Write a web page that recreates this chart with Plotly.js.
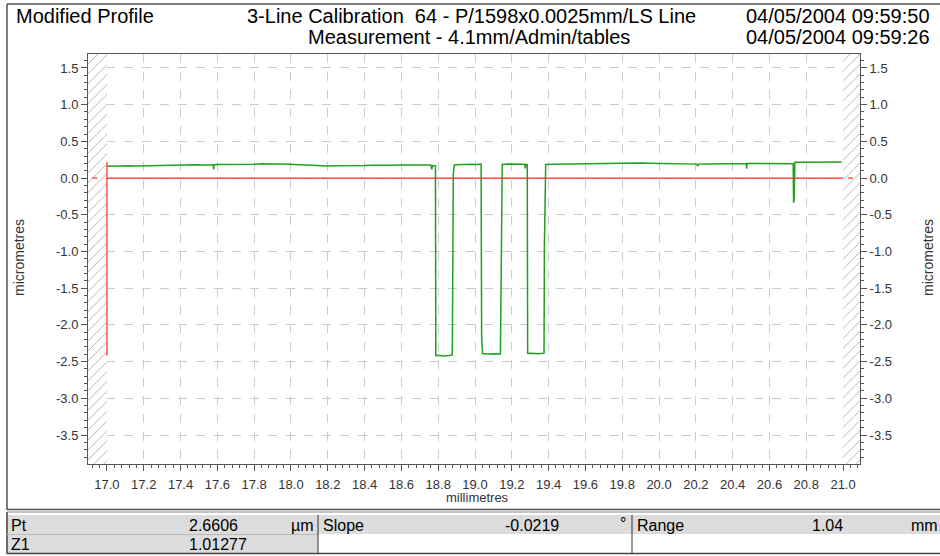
<!DOCTYPE html>
<html>
<head>
<meta charset="utf-8">
<script src="https://cdn.plot.ly/plotly-3.0.1.min.js"></script>
<style>
html,body{margin:0;padding:0;background:#fff;}
#chart{width:940px;height:556px;}
</style>
</head>
<body>
<div id="chart"></div>
<script>
// ---------- data ----------
const profileX = [
17.000,17.040,17.080,17.120,17.160,17.200,17.240,17.280,17.320,17.360,
17.400,17.440,17.480,17.520,17.560,17.578,17.580,17.582,17.600,17.640,
17.680,17.720,17.760,17.800,17.840,17.880,17.920,17.960,18.000,18.040,
18.080,18.120,18.160,18.200,18.240,18.280,18.320,18.360,18.400,18.440,
18.480,18.520,18.560,18.600,18.640,18.680,18.720,18.760,18.765,18.770,
18.785,18.787,18.800,18.830,18.860,18.876,18.877,18.882,18.888,18.920,
18.950,18.980,19.010,19.033,19.036,19.041,19.070,19.100,19.138,19.142,
19.148,19.180,19.210,19.240,19.270,19.273,19.276,19.284,19.286,19.310,
19.340,19.372,19.375,19.377,19.384,19.420,19.460,19.500,19.540,19.580,
19.620,19.660,19.700,19.740,19.780,19.820,19.860,19.900,19.940,19.980,
20.020,20.060,20.100,20.140,20.180,20.205,20.210,20.215,20.260,20.300,
20.340,20.380,20.420,20.460,20.474,20.476,20.478,20.520,20.560,20.600,
20.640,20.680,20.720,20.729,20.731,20.734,20.738,20.780,20.820,20.860,
20.900,20.940,20.993
];
const profileY = [
0.160,0.165,0.160,0.168,0.163,0.166,0.170,0.166,0.172,0.170,
0.176,0.175,0.180,0.178,0.182,0.182,0.118,0.182,0.184,0.183,
0.188,0.186,0.190,0.189,0.194,0.198,0.192,0.190,0.186,0.180,
0.170,0.168,0.166,0.165,0.168,0.166,0.170,0.172,0.170,0.174,
0.172,0.176,0.174,0.177,0.175,0.178,0.176,0.178,0.120,0.170,
0.165,-2.420,-2.415,-2.425,-2.418,-2.410,-2.230,0.060,0.180,0.186,
0.183,0.188,0.185,0.190,-2.160,-2.390,-2.398,-2.392,-2.395,-1.580,
0.185,0.190,0.187,0.192,0.188,0.130,0.186,0.182,-2.390,-2.385,
-2.392,-2.388,-2.385,-0.940,0.186,0.188,0.190,0.189,0.192,0.190,
0.193,0.195,0.194,0.197,0.199,0.200,0.202,0.204,0.201,0.200,
0.199,0.197,0.196,0.194,0.192,0.190,0.160,0.190,0.193,0.195,
0.197,0.198,0.199,0.200,0.199,0.128,0.199,0.200,0.198,0.199,
0.197,0.198,0.196,0.196,-0.335,-0.300,0.216,0.217,0.216,0.217,
0.218,0.217,0.218
];
// reference (least squares) line and range marker
const refLineX = [16.920,16.948,null,17.000,21.000,null,21.027,21.054,null,17.000,17.000];
const refLineY = [0,0,null,0,0,null,0,0,null,0.22,-2.42];
// excluded (hatched) zones
const hatchLeftX  = [16.897,17.000,17.000,16.897,16.897];
const hatchLeftY  = [1.69,1.69,-3.895,-3.895,1.69];
const hatchRightX = [21.000,21.092,21.092,21.000,21.000];
const hatchRightY = [1.69,1.69,-3.895,-3.895,1.69];

const xTickVals = [17.0,17.2,17.4,17.6,17.8,18.0,18.2,18.4,18.6,18.8,19.0,19.2,19.4,19.6,19.8,20.0,20.2,20.4,20.6,20.8,21.0];
const xTickText = ['17.0','17.2','17.4','17.6','17.8','18.0','18.2','18.4','18.6','18.8','19.0','19.2','19.4','19.6','19.8','20.0','20.2','20.4','20.6','20.8','21.0'];
const yTickVals = [1.5,1.0,0.5,0.0,-0.5,-1.0,-1.5,-2.0,-2.5,-3.0,-3.5];
const yTickText = ['1.5','1.0','0.5','0.0','-0.5','-1.0','-1.5','-2.0','-2.5','-3.0','-3.5'];

const headerLeft = 'Modified Profile';
const headerLine1 = '3-Line Calibration  64 - P/1598x0.0025mm/LS Line';
const headerLine2 = 'Measurement - 4.1mm/Admin/tables';
const headerDate1 = '04/05/2004 09:59:50';
const headerDate2 = '04/05/2004 09:59:26';
const xTitle = 'millimetres';
const yTitle = 'micrometres';

const tableLabels = ['Pt','Slope','Range','Z1'];
const tableValues = ['2.6606','-0.0219','1.04','1.01277'];
const tableUnits  = ['µm','°','mm'];

// ---------- layout helpers (pixel -> paper) ----------
const L = 88, R = 860, T = 54, B = 464;
const fx = p => (p - L) / (R - L);
const fy = p => (B - p) / (B - T);
const FONT = 'Liberation Sans, Arial, sans-serif';

function ann(text, x, y, xanchor, size, extra) {
  return Object.assign({
    text: text, xref: 'paper', yref: 'paper', x: fx(x), y: fy(y),
    xanchor: xanchor, yanchor: 'middle', showarrow: false,
    font: {family: FONT, size: size, color: '#000'}
  }, extra || {});
}
function line(x0, y0, x1, y1, color, width) {
  return {type: 'line', xref: 'paper', yref: 'paper',
    x0: fx(x0), y0: fy(y0), x1: fx(x1), y1: fy(y1),
    line: {color: color, width: width}, layer: 'above'};
}
function rect(x0, y0, x1, y1, fill) {
  return {type: 'rect', xref: 'paper', yref: 'paper',
    x0: fx(x0), y0: fy(y0), x1: fx(x1), y1: fy(y1),
    fillcolor: fill, line: {width: 0}, layer: 'below'};
}

const traces = [
  {x: hatchLeftX, y: hatchLeftY, type: 'scatter', mode: 'lines', fill: 'toself',
   fillcolor: '#ffffff', line: {width: 0}, hoverinfo: 'skip',
   fillpattern: {shape: '/', fgcolor: '#a8a8a8', bgcolor: '#ffffff', size: 7, solidity: 0.12}},
  {x: hatchRightX, y: hatchRightY, type: 'scatter', mode: 'lines', fill: 'toself',
   fillcolor: '#ffffff', line: {width: 0}, hoverinfo: 'skip',
   fillpattern: {shape: '/', fgcolor: '#a8a8a8', bgcolor: '#ffffff', size: 7, solidity: 0.12}},
  {x: profileX, y: profileY, type: 'scatter', mode: 'lines',
   line: {color: '#1fa01f', width: 1.5}},
  {x: refLineX, y: refLineY, type: 'scatter', mode: 'lines',
   line: {color: '#ff2a2a', width: 1.2}},
  {x: [17.0], y: [0], type: 'scatter', mode: 'markers', yaxis: 'y2',
   marker: {opacity: 0}, hoverinfo: 'skip'}
];

const axisCommon = {
  tickfont: {family: FONT, size: 13, color: '#333'},
  ticks: 'outside', ticklen: 6, tickcolor: '#555', tickwidth: 1,
  zeroline: false
};

const layout = {
  width: 940, height: 556,
  margin: {l: L, r: 940 - R, t: T, b: 556 - B, pad: 0},
  paper_bgcolor: '#ffffff', plot_bgcolor: '#ffffff',
  showlegend: false,
  font: {family: FONT},
  xaxis: Object.assign({}, axisCommon, {
    range: [16.897, 21.092], tickmode: 'array', tickvals: xTickVals, ticktext: xTickText,
    showgrid: true, gridcolor: '#cccccc', griddash: 'dash', gridwidth: 1,
    showline: true, mirror: true, linecolor: '#555', linewidth: 1,
    ticklabelstandoff: 2,
    minor: {dtick: 0.04, tick0: 17.0, ticks: 'outside', ticklen: 3, tickcolor: '#555', showgrid: false}
  }),
  yaxis: Object.assign({}, axisCommon, {
    range: [-3.895, 1.69], tickmode: 'array', tickvals: yTickVals, ticktext: yTickText,
    showgrid: true, gridcolor: '#cccccc', griddash: 'dash', gridwidth: 1,
    showline: true, mirror: true, linecolor: '#555', linewidth: 1,
    minor: {dtick: 0.1, tick0: 0, ticks: 'outside', ticklen: 3, tickcolor: '#555', showgrid: false}
  }),
  yaxis2: Object.assign({}, axisCommon, {
    range: [-3.895, 1.69], tickmode: 'array', tickvals: yTickVals, ticktext: yTickText,
    overlaying: 'y', side: 'right', anchor: 'x', showgrid: false, showline: false,
    minor: {dtick: 0.1, tick0: 0, ticks: 'outside', ticklen: 3, tickcolor: '#555', showgrid: false}
  }),
  annotations: [
    ann(headerLeft, 14, 16, 'left', 20),
    ann(headerLine1, 471, 16, 'center', 20),
    ann(headerLine2, 469, 37, 'center', 20),
    ann(headerDate1, 744, 16, 'left', 20),
    ann(headerDate2, 744, 37, 'left', 20),
    ann(xTitle, 477, 497, 'center', 13, {font: {family: FONT, size: 13, color: '#333'}}),
    ann(yTitle, 19, 258, 'center', 14, {textangle: -90, font: {family: FONT, size: 14, color: '#333'}}),
    ann(yTitle, 928, 258, 'center', 14, {textangle: -90, font: {family: FONT, size: 14, color: '#333'}}),
    ann(tableLabels[0], 9, 525, 'left', 16),
    ann(tableValues[0], 187, 525, 'left', 16),
    ann(tableUnits[0], 316, 525, 'right', 16),
    ann(tableLabels[1], 321, 525, 'left', 16),
    ann(tableValues[1], 503, 525, 'left', 16),
    ann(tableUnits[1], 623, 523, 'center', 16),
    ann(tableLabels[2], 635, 525, 'left', 16),
    ann(tableValues[2], 810, 525, 'left', 16),
    ann(tableUnits[2], 940, 525, 'right', 16),
    ann(tableLabels[3], 9, 544, 'left', 16),
    ann(tableValues[3], 187, 544, 'left', 16)
  ],
  shapes: [
    rect(7, 515, 940, 534, '#dcdcdc'),
    rect(7, 534, 318, 553, '#dcdcdc'),
    line(7, 4, 940, 4, '#555', 1.5),
    line(7, 4, 7, 510, '#555', 1.5),
    line(7, 509.5, 940, 509.5, '#555', 1.5),
    line(7, 512, 940, 512, '#888', 1),
    line(7, 512, 7, 554, '#444', 1.5),
    line(7, 534.5, 318, 534.5, '#bbb', 1),
    line(318, 515, 318, 554, '#333', 1),
    line(632, 515, 632, 554, '#333', 1),
    line(7, 553.5, 940, 553.5, '#444', 1.5)
  ]
};

Plotly.newPlot('chart', traces, layout, {staticPlot: true, displayModeBar: false});
</script>
</body>
</html>
